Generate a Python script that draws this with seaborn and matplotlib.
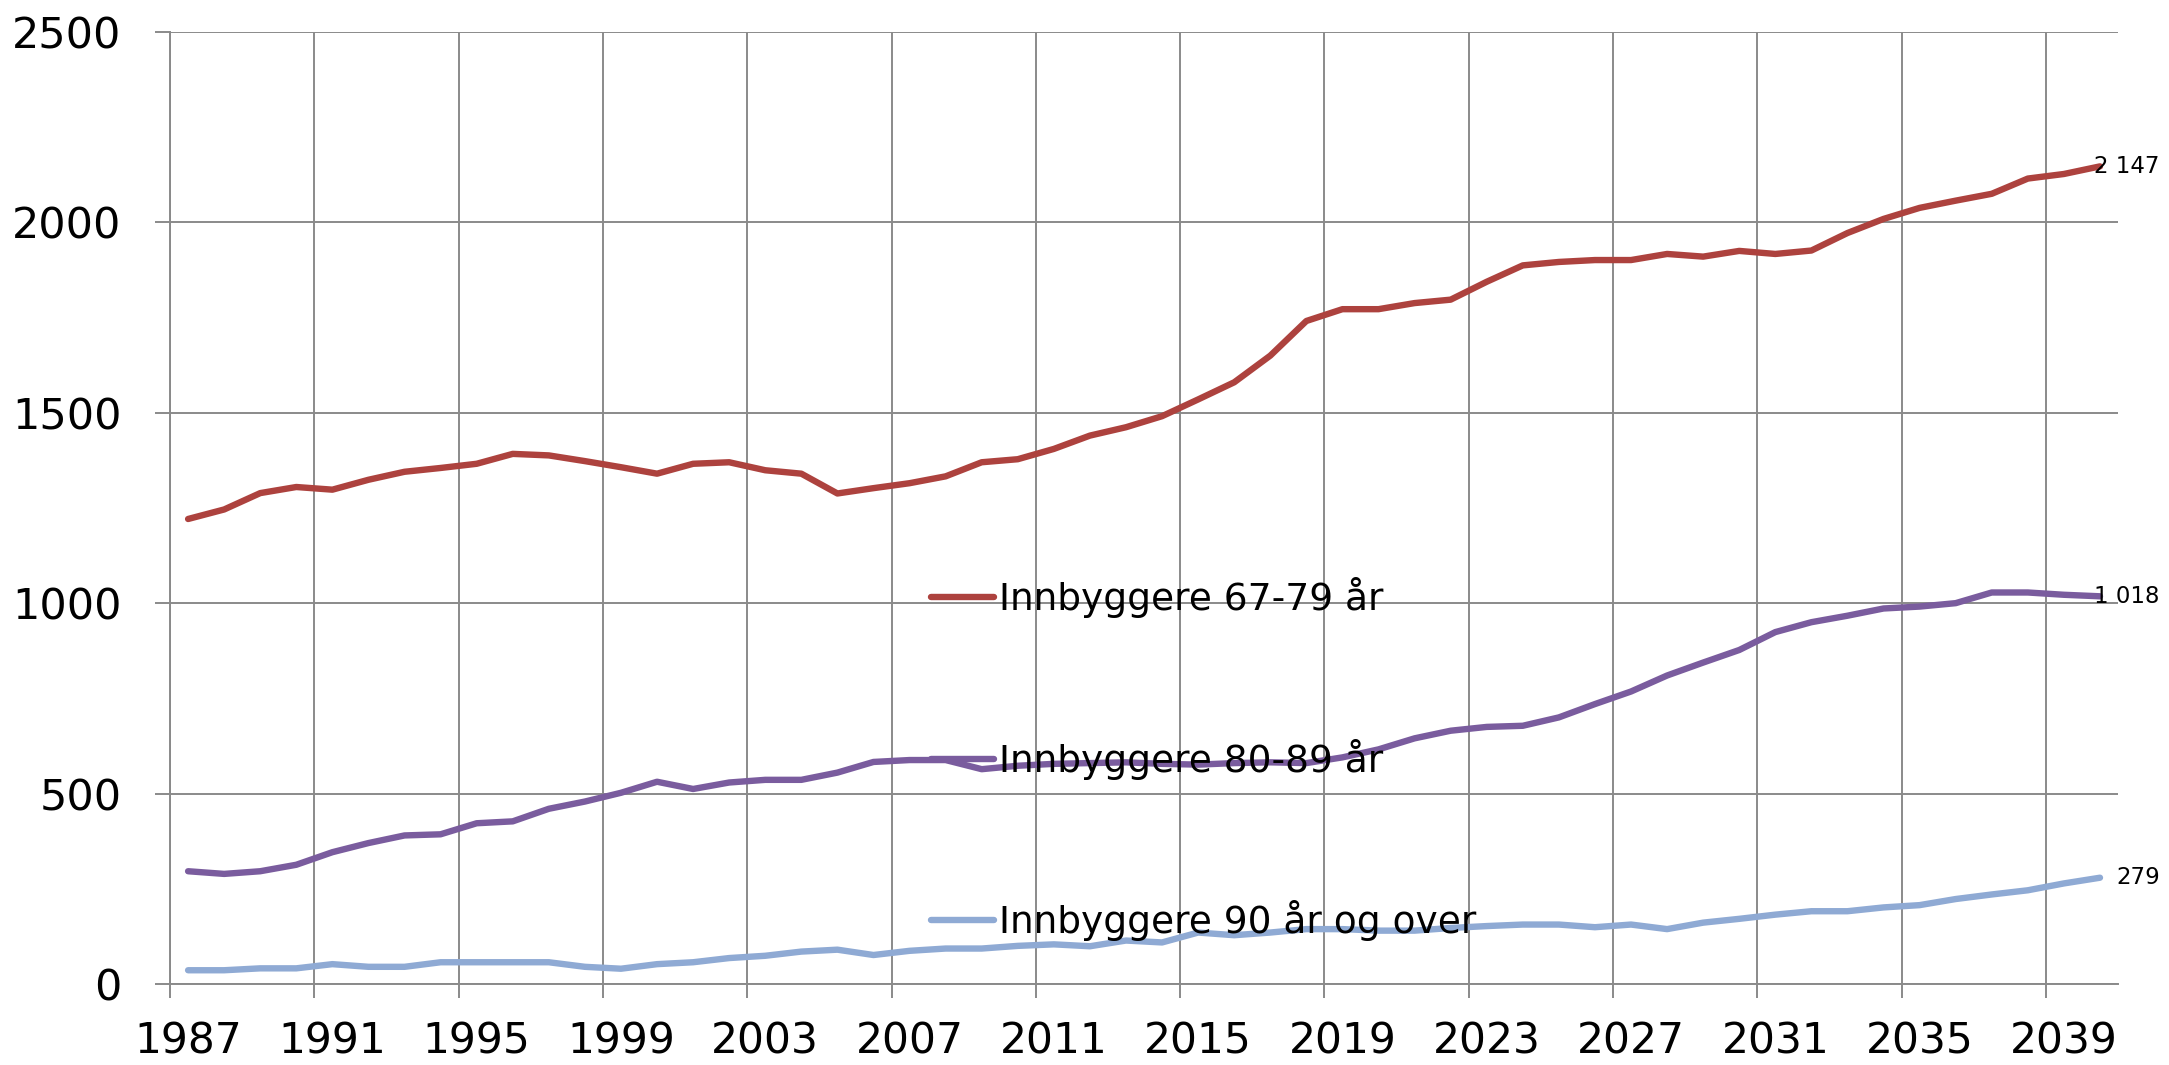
import matplotlib
matplotlib.use("Agg")
import matplotlib.pyplot as plt
import seaborn as sns
import pandas as pd
import numpy as np

# Innbyggere etter aldersgruppe, 1987-2040
years = list(range(1987, 2041))

age_67_79 = [1221, 1246, 1289, 1305, 1298, 1324, 1345, 1355, 1366, 1392,
             1388, 1373, 1357, 1340, 1366, 1370, 1349, 1340, 1288, 1302,
             1315, 1333, 1370, 1378, 1405, 1440, 1462, 1491, 1535, 1580,
             1650, 1741, 1772, 1772, 1788, 1797, 1844, 1887, 1896, 1901,
             1901, 1917, 1910, 1925, 1917, 1926, 1972, 2009, 2038, 2057,
             2075, 2115, 2127, 2147]

age_80_89 = [296, 289, 296, 313, 346, 370, 390, 393, 422, 427,
             460, 479, 502, 531, 512, 529, 536, 536, 555, 583,
             588, 588, 564, 573, 578, 580, 582, 578, 576, 580,
             582, 580, 595, 616, 645, 665, 675, 678, 700, 735,
             768, 810, 844, 877, 924, 950, 967, 986, 991, 1000,
             1028, 1028, 1022, 1018]

age_90 = [36, 36, 41, 41, 52, 45, 45, 57, 57, 57,
          57, 45, 40, 52, 57, 68, 74, 85, 90, 76,
          87, 93, 93, 100, 104, 99, 114, 109, 135, 128,
          135, 144, 144, 140, 140, 147, 152, 156, 156, 149,
          156, 144, 161, 171, 182, 191, 191, 201, 207, 223,
          235, 246, 264, 279]

series_names = ["Innbyggere 67-79 år", "Innbyggere 80-89 år", "Innbyggere 90 år og over"]
series_values = [age_67_79, age_80_89, age_90]
colors = ["#AD423E", "#7A5C9E", "#8FAAD4"]

frames = []
for name, vals in zip(series_names, series_values):
    frames.append(pd.DataFrame({"year": years, "value": vals, "serie": name}))
df = pd.concat(frames, ignore_index=True)

sns.set_theme(style="white")
plt.rcParams["font.family"] = ["DejaVu Sans"]
plt.rcParams["text.color"] = "black"
plt.rcParams["xtick.color"] = "black"
plt.rcParams["ytick.color"] = "black"

fig = plt.figure(figsize=(21.69, 10.65), dpi=100)
ax = fig.add_axes([0.0784, 0.0761, 0.8981, 0.8939])

sns.lineplot(data=df, x="year", y="value", hue="serie", hue_order=series_names,
             palette=dict(zip(series_names, colors)), linewidth=4.6, ax=ax,
             solid_capstyle="round", zorder=3)

grid_col = "#8a8a8a"
ax.set_xlim(1986.5, 2040.5)
ax.set_ylim(0, 2500)
ax.set_yticks(np.arange(0, 2501, 500))
ax.set_xticks(np.arange(1986.5, 2039, 4))
ax.set_xticklabels([])
ax.set_xticks(np.arange(1987, 2040, 4), minor=True)
ax.set_xticklabels([str(y) for y in range(1987, 2040, 4)], minor=True)

ax.grid(True, which="major", color=grid_col, linewidth=1.4)
ax.tick_params(axis="x", which="major", direction="out", length=10, width=1.4,
               color=grid_col, bottom=True)
ax.tick_params(axis="x", which="minor", length=0, pad=26, labelsize=30.5,
               labelcolor="black", bottom=True)
ax.tick_params(axis="y", direction="out", length=11, width=1.4, color=grid_col,
               pad=24, labelsize=31, labelcolor="black", left=True)

for side in ["top", "right"]:
    ax.spines[side].set_visible(False)
for side in ["left", "bottom"]:
    ax.spines[side].set_color(grid_col)
    ax.spines[side].set_linewidth(1.4)

ax.set_xlabel("")
ax.set_ylabel("")

# end labels
for vals in series_values:
    last = vals[-1]
    txt = f"{last:,}".replace(",", " ")
    dx = 12 if last < 500 else -4
    ax.annotate(txt, xy=(years[-1], last), xytext=(dx, 0), textcoords="offset points",
                ha="left", va="center", fontsize=16.5, color="black", zorder=4)

handles, labels = ax.get_legend_handles_labels()
leg = ax.legend(handles, labels, loc="upper left", bbox_to_anchor=(0.3905, 0.4275),
                frameon=False, fontsize=27, handlelength=1.7, handletextpad=0.12,
                labelspacing=3.22, borderpad=0, borderaxespad=0, labelcolor="black")
for line in leg.get_lines():
    line.set_linewidth(4.6)

fig.savefig("out.png", dpi=100)
